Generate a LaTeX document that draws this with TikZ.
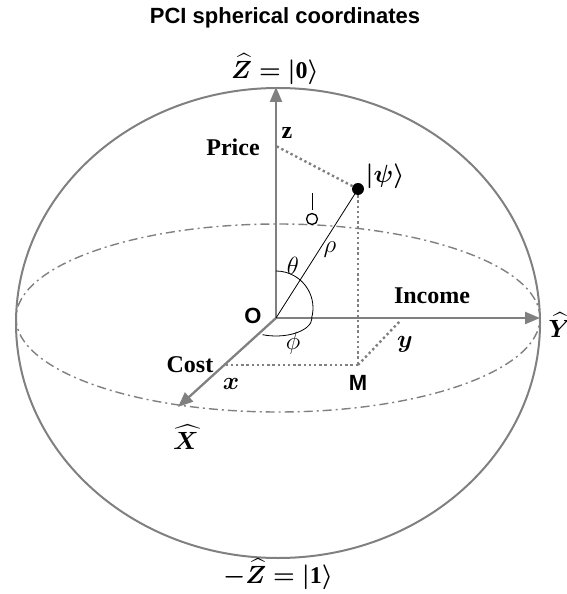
\documentclass[tikz,border=0pt]{standalone}
\usepackage{amsmath}
\usepackage{bm}
\usepackage{fontspec}
\setmainfont{Liberation Serif}
\setsansfont{Liberation Sans}
\usetikzlibrary{arrows.meta,calc}
\definecolor{axisgray}{RGB}{128,128,128}

\begin{document}
\begin{tikzpicture}[
        x=1pt, y=1pt,
        font=\fontsize{24}{28}\selectfont\bfseries,
        axis/.style={draw=axisgray, line width=2.3pt, -{Triangle[length=15pt,width=12pt]}},
        dotline/.style={draw=axisgray, line width=2.4pt, dash pattern=on 2.4pt off 2.8pt},
        shell/.style={draw=axisgray, line width=2pt},
        equator/.style={draw=axisgray, line width=1.4pt, dash pattern=on 9pt off 4pt on 2pt off 4pt},
        anglearc/.style={draw=black, line width=0.8pt},
        lbl/.style={inner sep=1pt},
        greek/.style={inner sep=1pt, font=\fontsize{24}{28}\selectfont},
        sanslbl/.style={inner sep=1pt, font=\fontsize{22}{26}\selectfont\sffamily\bfseries}
    ]
        \useasboundingbox (-276,-276) rectangle (291,318);

        % sphere and equator
        \coordinate (C) at (2,-5);
        \draw[shell] (C) ellipse [x radius=262, y radius=235];
        \draw[equator] (2,0) ellipse [x radius=262, y radius=94];

        % axes
        \coordinate (O) at (0,0);
        \coordinate (ztip) at (0,231);
        \coordinate (ytip) at (264,0);
        \coordinate (xtip) at (-98,-89);
        \draw[axis] (O) -- (ztip);
        \draw[axis] (O) -- (ytip);
        \draw[axis] (O) -- (xtip);

        % state and projections
        \node[circle, fill=black, inner sep=0pt, minimum size=12pt] (psi) at (82,129) {};
        \coordinate (zproj) at (0,172);
        \coordinate (M) at (82,-47);
        \coordinate (xproj) at (-52,-47);
        \coordinate (yproj) at (124,-3);
        \draw[dotline] (psi) -- (zproj);
        \draw[dotline] (psi) -- (M);
        \draw[dotline] (M) -- (xproj);
        \draw[dotline] (M) -- (yproj);
        \draw[black, line width=0.8pt] (O) -- (psi.center);

        % angles
        \draw[anglearc] (0,47) arc[start angle=90, end angle=-16, radius=37];
        \draw[anglearc] (36,0) arc[start angle=0, end angle=-112, x radius=36, y radius=18];

        % small mark
        \node[draw, circle, line width=1.3pt, minimum size=11pt, inner sep=0pt] (omark) at (36,99) {};
        \draw[black, line width=0.9pt] ([yshift=3pt]omark.north) -- ++(0,17);

        % labels
        \node[sanslbl] (title) at (9,300) {PCI spherical coordinates};
        \node[lbl] (zlbl) at (-1,249) {$\bm{\widehat{Z}=|}\mathbf{0}\bm{\rangle}$};
        \node[lbl] (nzlbl) at (2,-256) {$\bm{-\widehat{Z}=|}\mathbf{1}\bm{\rangle}$};
        \node[lbl] (ylbl) at (284,-7) {$\bm{\widehat{Y}}$};
        \node[lbl] (xlbl) at (-90,-119) {$\bm{\widehat{X}}$};
        \node[sanslbl] (olbl) at (-23,2) {O};
        \node[sanslbl] (mlbl) at (82,-65) {M};
        \node[lbl] (price) at (-43,171) {Price};
        \node[lbl] (income) at (156,22) {Income};
        \node[lbl] (cost) at (-86,-47) {Cost};
        \node[lbl] (zval) at (11,185) {z};
        \node[lbl] (xval) at (-45,-66) {$\bm{x}$};
        \node[lbl] (yval) at (129,-26) {$\bm{y}$};
        \node[lbl] (psilbl) at (109,142) {$\bm{|\psi\rangle}$};
        \node[greek] (rholbl) at (54,68) {$\rho$};
        \node[greek] (thlbl) at (17,52) {$\theta$};
        \node[greek] (phlbl) at (17,-25) {$\phi$};
\end{tikzpicture}
\end{document}
